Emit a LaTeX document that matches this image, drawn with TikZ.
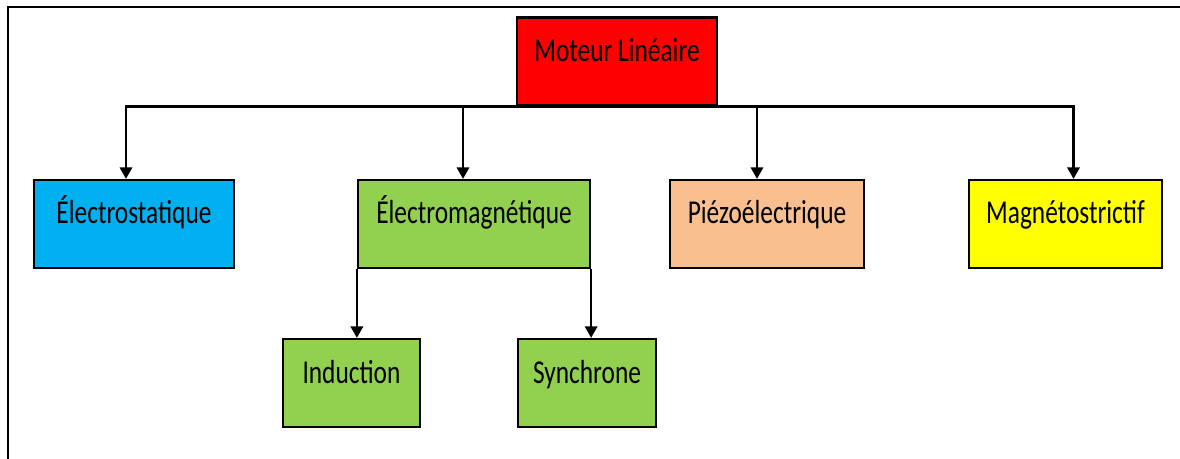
\documentclass[tikz,border=0pt]{standalone}
\usepackage{fontspec}
\newfontfamily\boxfont[FakeStretch=0.76]{Carlito}
\usetikzlibrary{arrows.meta,positioning,calc}

\definecolor{redbox}{HTML}{FF0000}
\definecolor{cyanbox}{HTML}{00B0F0}
\definecolor{greenbox}{HTML}{92D050}
\definecolor{peachbox}{HTML}{F9BF8F}
\definecolor{yellowbox}{HTML}{FFFF00}

\begin{document}
\begin{tikzpicture}[
  x=0.02cm, y=-0.02cm,
  >={Triangle[length=6.5pt, width=7pt]},
  every node/.style={font=\boxfont\fontsize{19pt}{21pt}\selectfont},
  kind/.style={draw, line width=1.3pt, minimum height=1.76cm,
               text height=0.5cm, text depth=0.5cm, inner sep=0pt},
  link/.style={->, line width=1.3pt},
]
\useasboundingbox (0,0) rectangle (1180,459);

% cadre
\draw[line width=1.4pt] (1180,7) -- (8,7) -- (8,459);

\node[kind, fill=redbox, minimum width=4cm] (moteur) at (617,61.5) {Moteur Linéaire};

\node[kind, fill=cyanbox, minimum width=4cm] (stat) at (134,224) {Électrostatique};
\node[kind, fill=greenbox, minimum width=4.64cm] (emag) at (474,224) {Électromagnétique};
\node[kind, fill=peachbox, minimum width=3.88cm] (piezo) at (767,224) {Piézoélectrique};
\node[kind, fill=yellowbox, minimum width=3.86cm] (magneto) at (1065.5,224) {Magnétostrictif};

\node[kind, fill=greenbox, minimum width=2.74cm] (induc) at (351.5,383) {Induction};
\node[kind, fill=greenbox, minimum width=2.76cm] (sync) at (587,383) {Synchrone};

\draw[link] (moteur.south) -| ([xshift=-0.16cm]stat.north);
\draw[link] (moteur.south) -| ([xshift=-0.22cm]emag.north);
\draw[link] (moteur.south) -| ([xshift=-0.2cm]piezo.north);
\draw[link] (moteur.south) -| ([xshift=0.16cm]magneto.north);

\draw[link] (emag.south west) -- (emag.south west |- induc.north);
\draw[link] (emag.south east) -- (emag.south east |- sync.north);
\end{tikzpicture}
\end{document}
